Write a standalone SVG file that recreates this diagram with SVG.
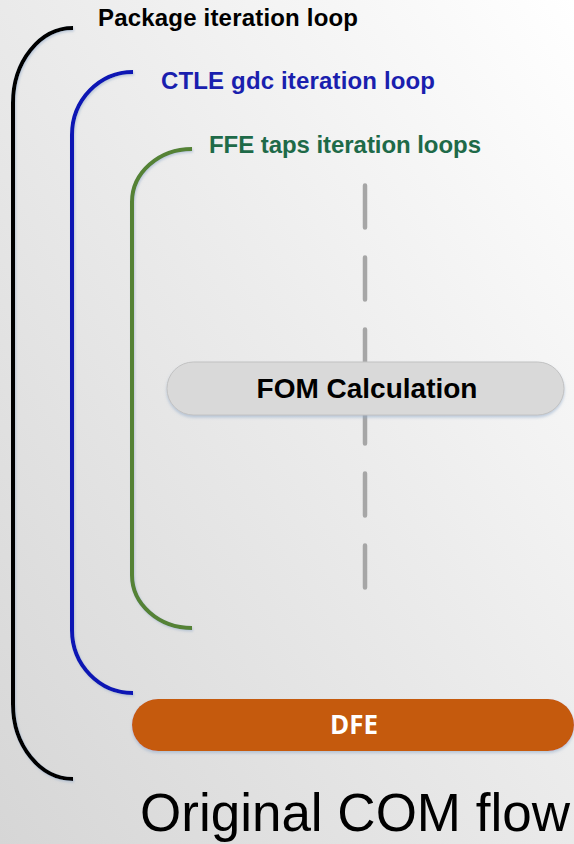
<svg xmlns="http://www.w3.org/2000/svg" width="574" height="844" viewBox="0 0 574 844">
<defs>
<linearGradient id="bg" x1="0" y1="1" x2="1" y2="0">
<stop offset="0" stop-color="#d6d6d6"/>
<stop offset="0.55" stop-color="#ececec"/>
<stop offset="1" stop-color="#ffffff"/>
</linearGradient>
<filter id="sh" x="-10%" y="-10%" width="120%" height="130%">
<feDropShadow dx="0" dy="2" stdDeviation="1.8" flood-color="#8fa8c8" flood-opacity="0.55"/>
</filter>
<filter id="lsh" x="-20%" y="-5%" width="140%" height="110%">
<feDropShadow dx="1" dy="1.5" stdDeviation="1.2" flood-color="#8fa8c8" flood-opacity="0.5"/>
</filter>
</defs>
<style>
.lbl{font-family:"Liberation Sans",Arial,sans-serif;font-weight:bold;font-size:24px}
.br{fill:none;stroke-width:4;filter:url(#lsh)}
</style>
<rect x="0" y="0" width="574" height="844" fill="url(#bg)"/>

<g id="connectors">
<line x1="365" y1="185.5" x2="365" y2="588" stroke="#a6a6a6" stroke-width="4.5" stroke-linecap="round" stroke-dasharray="42 30"/>
</g>

<g id="package-loop">
<path class="br" stroke="#000000" d="M73,28 A60,75 0 0 0 13,103 L13,704 A60,75 0 0 0 73,779"/>
<text class="lbl" x="98" y="26" fill="#000000" textLength="260" lengthAdjust="spacing">Package iteration loop</text>
</g>

<g id="ctle-loop">
<path class="br" stroke="#0a14b4" d="M133,72 A61,63 0 0 0 72,135 L72,630 A61,63 0 0 0 133,693"/>
<text class="lbl" x="161" y="89" fill="#1a1fae" textLength="274" lengthAdjust="spacing">CTLE gdc iteration loop</text>
</g>

<g id="ffe-loop">
<path class="br" stroke="#548235" d="M192,149 A60,53 0 0 0 132,202 L132,575 A60,53 0 0 0 192,628"/>
<text class="lbl" x="209" y="153" fill="#1e6a48" textLength="272" lengthAdjust="spacing">FFE taps iteration loops</text>
</g>

<g id="fom">
<rect x="167" y="362" width="397" height="53" rx="26.5" fill="#d9d9d9" stroke="#c2c2c2" stroke-width="1" filter="url(#sh)"/>
<text x="367" y="398" text-anchor="middle" font-family="Liberation Sans,Arial,sans-serif" font-weight="bold" font-size="28" fill="#000000">FOM Calculation</text>
</g>

<g id="dfe">
<rect x="132" y="699" width="442" height="52" rx="26" fill="#c55a11" filter="url(#sh)"/>
<text x="354" y="734" text-anchor="middle" font-family="'Open Sans','Liberation Sans',Arial,sans-serif" font-weight="bold" font-size="26" fill="#ffffff">DFE</text>
</g>

<g id="caption">
<text x="140" y="831" font-family="Liberation Sans,Arial,sans-serif" font-size="53" fill="#000000" textLength="430" lengthAdjust="spacingAndGlyphs">Original COM flow</text>
</g>
</svg>
